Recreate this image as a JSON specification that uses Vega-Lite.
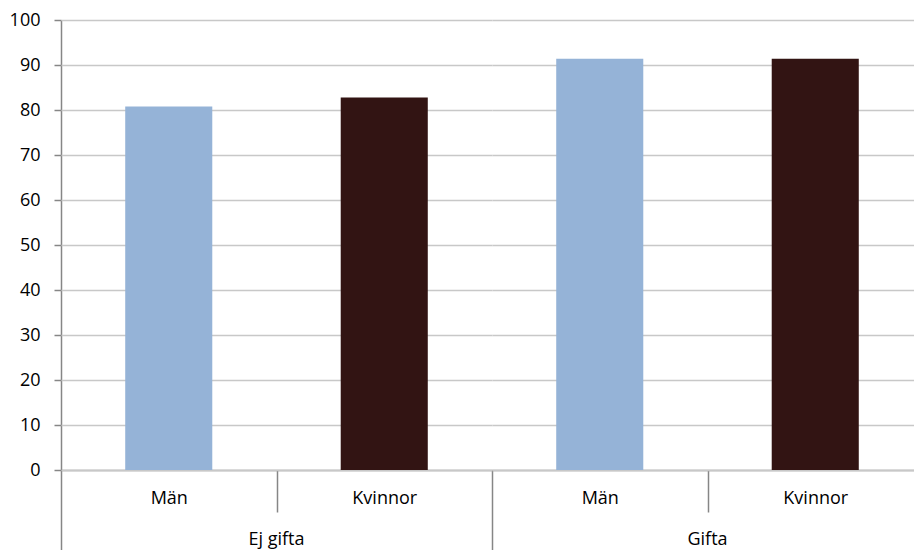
{
  "$schema": "https://vega.github.io/schema/vega-lite/v6.json",
  "autosize": {"type": "pad"},
  "padding": {"left": 9, "top": 11, "right": 0, "bottom": 0},
  "background": "white",
  "data": {"values": [
    {"group": "Ej gifta", "sex": "Män", "value": 80.8},
    {"group": "Ej gifta", "sex": "Kvinnor", "value": 82.8},
    {"group": "Gifta", "sex": "Män", "value": 91.4},
    {"group": "Gifta", "sex": "Kvinnor", "value": 91.4}
  ]},
  "facet": {
    "column": {
      "field": "group", "type": "nominal", "sort": ["Ej gifta", "Gifta"], "title": null,
      "header": {"labelOrient": "bottom", "labelFontSize": 18, "labelFont": "Open Sans", "labelColor": "#000000", "labelPadding": -11, "labelBaseline": "middle"}
    }
  },
  "spacing": 0,
  "spec": {
    "width": 431,
    "height": 450,
    "mark": {"type": "bar"},
    "encoding": {
      "x": {
        "field": "sex", "type": "nominal", "sort": ["Män", "Kvinnor"],
        "scale": {"paddingInner": 0.596, "paddingOuter": 0.298},
        "axis": {
          "title": null, "labelAngle": 0,
          "tickOffset": -107.75, "labelOffset": 107.75,
          "tickSize": {"condition": {"test": "datum.value === 'Män'", "value": 80}, "value": 42},
          "tickColor": "#868686", "tickWidth": 1.5, "domainColor": "#868686", "domainWidth": 1.5,
          "labelFontSize": 18, "labelFont": "Open Sans", "labelColor": "#000000",
          "labelBaseline": "middle",
          "labelPadding": {"condition": {"test": "datum.value === 'Män'", "value": -52}, "value": -14}
        }
      },
      "y": {
        "field": "value", "type": "quantitative",
        "scale": {"domain": [0, 100], "nice": false},
        "axis": {
          "title": null, "values": [0, 10, 20, 30, 40, 50, 60, 70, 80, 90, 100],
          "tickSize": 7, "tickColor": "#868686", "tickWidth": 1.5, "domainColor": "#868686", "domainWidth": 1.5,
          "gridColor": "#c8c8c8", "gridWidth": 1.5,
          "labelFontSize": 18, "labelFont": "Open Sans", "labelColor": "#000000", "labelPadding": 14
        }
      },
      "color": {
        "field": "sex", "type": "nominal",
        "scale": {"domain": ["Män", "Kvinnor"], "range": ["#95b3d7", "#321413"]},
        "legend": null
      }
    }
  },
  "config": {"view": {"stroke": null}}
}
